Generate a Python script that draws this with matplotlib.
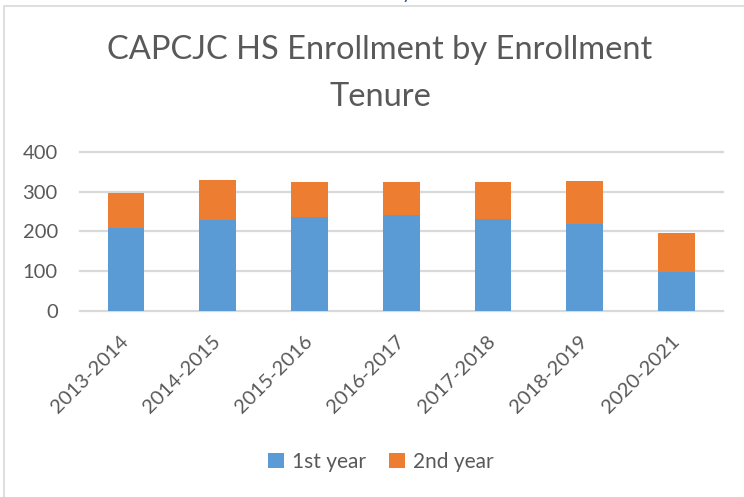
import matplotlib.pyplot as plt
from matplotlib.patches import Rectangle

# data
SEASONS = ["2013-2014", "2014-2015", "2015-2016", "2016-2017",
           "2017-2018", "2018-2019", "2020-2021"]
FIRST_YEAR = [209, 229, 236, 241, 231, 219, 99]
SECOND_YEAR = [87, 100, 88, 83, 93, 107, 97]
Y_TICKS = [0, 100, 200, 300, 400]

BLUE = "#5b9bd5"
ORANGE = "#ed7d31"
TEXT = "#595959"
GRID = "#d9d9d9"

plt.rcParams["font.family"] = ["Lato", "DejaVu Sans"]

W, H = 744, 497
fig = plt.figure(figsize=(W / 100, H / 100), dpi=100)

# chart area border (runs off the right and bottom of the picture)
fig.patches.append(Rectangle((4 / W, -0.1), 1.2, 1.1 - 6 / H,
                             transform=fig.transFigure, fill=False,
                             edgecolor=GRID, linewidth=1.2))

# cut-off glyph from the page above
fig.text(407 / W, 1 + 1 / H, "y", color="#2f5597", fontsize=14,
         ha="center", va="baseline")

ax = fig.add_axes([80 / W, 1 - 311 / H, (722.5 - 80) / W, (311 - 151.7) / H])

x = range(len(SEASONS))
ax.bar(x, FIRST_YEAR, width=0.4, color=BLUE, label="1st year", zorder=3)
ax.bar(x, SECOND_YEAR, width=0.4, bottom=FIRST_YEAR, color=ORANGE,
       label="2nd year", zorder=3)

ax.set_xlim(-0.5, len(SEASONS) - 0.5)
ax.set_ylim(0, 400)
ax.set_yticks(Y_TICKS)
ax.set_xticks(list(x))
ax.set_xticklabels(SEASONS, rotation=45, ha="right", va="center",
                   rotation_mode="anchor")
ax.tick_params(axis="y", length=0, pad=16, labelsize=14.5, labelcolor=TEXT)
ax.tick_params(axis="x", length=0, pad=20, labelsize=14.5, labelcolor=TEXT)

ax.grid(axis="y", color=GRID, linewidth=1.6, zorder=0)
for line in ax.get_ygridlines():
    line.set_clip_on(False)
for s in ax.spines.values():
    s.set_visible(False)

fig.text(380 / W, 1 - 50 / H, "CAPCJC HS Enrollment by Enrollment",
         ha="center", va="center", fontsize=23.5, color=TEXT)
fig.text(380 / W, 1 - 97 / H, "Tenure",
         ha="center", va="center", fontsize=23.5, color=TEXT)

fig.legend(loc="center", bbox_to_anchor=(381 / W, 1 - 462 / H), ncol=2,
           frameon=False, fontsize=15, labelcolor=TEXT, handlelength=0.75,
           handleheight=0.75, handletextpad=0.4, columnspacing=1.1)

fig.savefig("out.png", dpi=100)
